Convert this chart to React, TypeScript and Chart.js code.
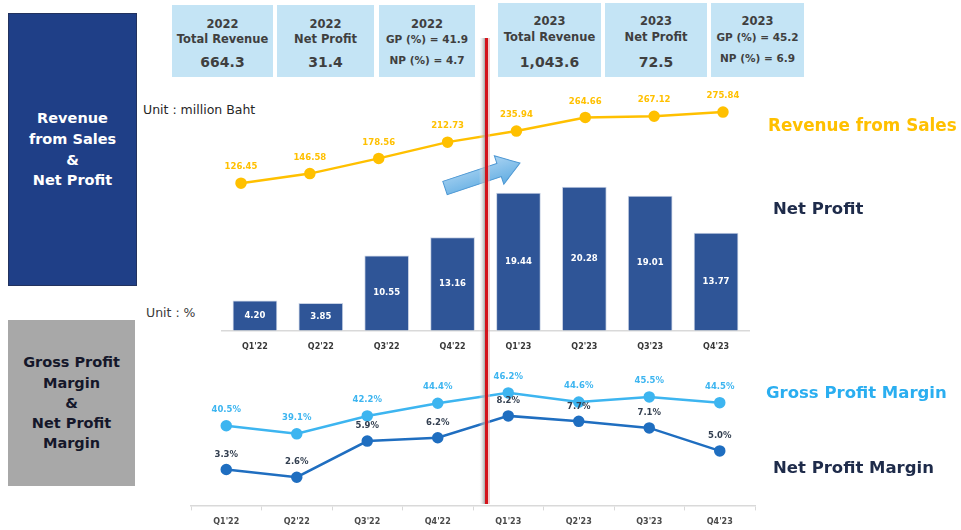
import React, { useEffect, useRef } from "react";
import { Chart, registerables } from "chart.js";

Chart.register(...registerables);

const quarters = ["Q1'22", "Q2'22", "Q3'22", "Q4'22", "Q1'23", "Q2'23", "Q3'23", "Q4'23"];
const revenue = [126.45, 146.58, 178.56, 212.73, 235.94, 264.66, 267.12, 275.84];
const netProfit = [4.2, 3.85, 10.55, 13.16, 19.44, 20.28, 19.01, 13.77];
const grossMargin = [40.5, 39.1, 42.2, 44.4, 46.2, 44.6, 45.5, 44.5];
const netMargin = [3.3, 2.6, 5.9, 6.2, 8.2, 7.7, 7.1, 5.0];

const summary2022 = [
  { lines: ["2022", "Total Revenue", "664.3"] },
  { lines: ["2022", "Net Profit", "31.4"] },
  { lines: ["2022", "GP (%) = 41.9", "NP (%) = 4.7"] },
];
const summary2023 = [
  { lines: ["2023", "Total Revenue", "1,043.6"] },
  { lines: ["2023", "Net Profit", "72.5"] },
  { lines: ["2023", "GP (%) = 45.2", "NP (%) = 6.9"] },
];

const FONT = "'DejaVu Sans', sans-serif";

type LabelCfg = { color: string; font: string; offset: number; center?: boolean; fmt: (v: number) => string } | null;

function makeLabelPlugin(cfgs: LabelCfg[]) {
  return {
    id: "valueLabels",
    afterDatasetsDraw(chart: any) {
      const ctx = chart.ctx;
      chart.data.datasets.forEach((ds: any, di: number) => {
        const cfg = cfgs[di];
        if (!cfg) return;
        const meta = chart.getDatasetMeta(di);
        meta.data.forEach((el: any, i: number) => {
          const raw = ds.data[i];
          const v = typeof raw === "number" ? raw : raw.y;
          const y = cfg.center ? (el.y + el.base) / 2 : el.y - cfg.offset;
          ctx.save();
          ctx.font = cfg.font;
          ctx.fillStyle = cfg.color;
          ctx.textAlign = "center";
          ctx.textBaseline = "middle";
          ctx.fillText(cfg.fmt(v), el.x, y);
          ctx.restore();
        });
      });
    },
  };
}

function TopChart() {
  const ref = useRef<HTMLCanvasElement>(null);
  useEffect(() => {
    const chart = new Chart(ref.current!, {
      type: "bar",
      data: {
        labels: quarters,
        datasets: [
          {
            type: "line",
            data: revenue.map((v, i) => ({ x: i, y: v })),
            xAxisID: "xl",
            yAxisID: "yr",
            borderColor: "#FFC000",
            backgroundColor: "#FFC000",
            borderWidth: 2.5,
            pointRadius: 4.5,
            pointBackgroundColor: "#FFC000",
            pointBorderColor: "#FFC000",
            order: 0,
          } as any,
          {
            type: "bar",
            data: netProfit,
            xAxisID: "x",
            yAxisID: "y",
            backgroundColor: "#2F5597",
            borderColor: "#C8D2E4",
            borderWidth: 1,
            barThickness: 44,
            grouped: false,
            order: 1,
          },
        ],
      },
      options: {
        responsive: false,
        animation: false,
        layout: { padding: { left: 22, right: 31, top: 10, bottom: 6 } },
        plugins: { legend: { display: false }, tooltip: { enabled: false } },
        scales: {
          x: {
            type: "category",
            offset: true,
            grid: { display: false, drawTicks: false },
            border: { display: true, color: "#D9D9D9", width: 1.5 },
            ticks: { color: "#383838", font: { family: FONT, size: 8, weight: "bold" }, padding: 12 },
          },
          xl: { type: "linear", display: false, offset: false, min: -0.276, max: 7.378 },
          y: { display: false, min: 0, max: 34.04 },
          yr: { display: false, min: -183, max: 322.3 },
        },
      },
      plugins: [
        makeLabelPlugin([
          { color: "#FFC000", font: `bold 8.5px ${FONT}`, offset: 16, fmt: (v) => v.toFixed(2) },
          { color: "#FFFFFF", font: `bold 8.5px ${FONT}`, offset: 0, center: true, fmt: (v) => v.toFixed(2) },
        ]),
      ],
    } as any);
    return () => chart.destroy();
  }, []);
  return (
    <canvas
      ref={ref}
      width={580}
      height={290}
      style={{ position: "absolute", left: 200, top: 80, width: 580, height: 290 }}
    />
  );
}

function BottomChart() {
  const ref = useRef<HTMLCanvasElement>(null);
  useEffect(() => {
    const chart = new Chart(ref.current!, {
      type: "line",
      data: {
        labels: quarters,
        datasets: [
          {
            data: grossMargin,
            yAxisID: "y",
            borderColor: "#3DB5F0",
            backgroundColor: "#3DB5F0",
            borderWidth: 2.5,
            pointRadius: 4.5,
            pointBackgroundColor: "#3DB5F0",
            pointBorderColor: "#3DB5F0",
          },
          {
            data: netMargin,
            yAxisID: "y2",
            borderColor: "#1F6EC0",
            backgroundColor: "#1F6EC0",
            borderWidth: 2.5,
            pointRadius: 4.5,
            pointBackgroundColor: "#1F6EC0",
            pointBorderColor: "#1F6EC0",
          },
        ],
      },
      options: {
        responsive: false,
        animation: false,
        layout: { padding: { left: 21, right: 35, top: 15, bottom: 0 } },
        plugins: { legend: { display: false }, tooltip: { enabled: false } },
        scales: {
          x: {
            type: "category",
            offset: true,
            grid: { display: true, drawOnChartArea: false, drawTicks: true, tickLength: 5, offset: true, color: "#D9D9D9" },
            border: { display: true, color: "#D9D9D9", width: 1.5 },
            ticks: { color: "#4A4A4A", font: { family: FONT, size: 8, weight: "bold" }, padding: 6.5 },
          },
          y: { display: false, min: 26.68, max: 50.17 },
          y2: { display: false, min: 0.027, max: 12.39 },
        },
      },
      plugins: [
        makeLabelPlugin([
          { color: "#3DB5F0", font: `bold 8.5px ${FONT}`, offset: 16, fmt: (v) => v.toFixed(1) + "%" },
          { color: "#333F50", font: `bold 8.5px ${FONT}`, offset: 15, fmt: (v) => v.toFixed(1) + "%" },
        ]),
      ],
    } as any);
    return () => chart.destroy();
  }, []);
  return (
    <canvas
      ref={ref}
      width={620}
      height={178}
      style={{ position: "absolute", left: 170, top: 355, width: 620, height: 178 }}
    />
  );
}

function SummaryBox({ left, top, width, height, lines, ys }: any) {
  return (
    <div
      style={{
        position: "absolute",
        left,
        top,
        width,
        height,
        background: "#C4E4F5",
        color: "#3F3F3F",
        fontFamily: FONT,
        fontWeight: "bold",
      }}
    >
      {lines.map((t: string, i: number) => {
        const big = /^[\d,.]+$/.test(t) && i === 2;
        const size = big ? 14 : t.startsWith("GP") || t.startsWith("NP") ? 10.5 : 11.5;
        return (
          <div
            key={i}
            style={{
              position: "absolute",
              left: 0,
              width: "100%",
              top: ys[i] - 8,
              height: 16,
              lineHeight: "16px",
              textAlign: "center",
              fontSize: size,
              whiteSpace: "nowrap",
            }}
          >
            {t}
          </div>
        );
      })}
    </div>
  );
}

export default function App() {
  const boxes2022 = [
    { left: 172, width: 101 },
    { left: 277, width: 97 },
    { left: 379, width: 96 },
  ];
  const boxes2023 = [
    { left: 498, width: 103 },
    { left: 605, width: 102 },
    { left: 711, width: 93 },
  ];
  return (
    <div
      style={{
        position: "absolute",
        left: 0,
        top: 0,
        width: 961,
        height: 530,
        background: "#FFFFFF",
        overflow: "hidden",
        fontFamily: FONT,
      }}
    >
      {summary2022.map((b, i) => (
        <SummaryBox
          key={"a" + i}
          left={boxes2022[i].left}
          top={5}
          width={boxes2022[i].width}
          height={72}
          lines={b.lines}
          ys={i === 2 ? [19, 34, 55] : [19, 34, 57]}
        />
      ))}
      {summary2023.map((b, i) => (
        <SummaryBox
          key={"b" + i}
          left={boxes2023[i].left}
          top={3}
          width={boxes2023[i].width}
          height={74}
          lines={b.lines}
          ys={i === 2 ? [18, 34, 55] : [18, 34, 59]}
        />
      ))}

      <div
        style={{
          position: "absolute",
          left: 8,
          top: 13,
          width: 127,
          height: 271,
          background: "#1F3F87",
          border: "1px solid #22325E",
          color: "#FFFFFF",
          display: "flex",
          alignItems: "center",
          justifyContent: "center",
          textAlign: "center",
          fontWeight: "bold",
          fontSize: 14.5,
          lineHeight: "20.7px",
        }}
      >
        <div>
          Revenue
          <br />
          from Sales
          <br />&amp;
          <br />
          Net Profit
        </div>
      </div>

      <div
        style={{
          position: "absolute",
          left: 8,
          top: 320,
          width: 127,
          height: 166,
          background: "#A8A8A8",
          color: "#15172A",
          display: "flex",
          alignItems: "center",
          justifyContent: "center",
          textAlign: "center",
          fontWeight: "bold",
          fontSize: 14.5,
          lineHeight: "20.3px",
        }}
      >
        <div>
          Gross Profit
          <br />
          Margin
          <br />&amp;
          <br />
          Net Profit
          <br />
          Margin
        </div>
      </div>

      <div style={{ position: "absolute", left: 143, top: 102, fontSize: 12.5, color: "#262626", whiteSpace: "nowrap" }}>
        Unit : million Baht
      </div>
      <div style={{ position: "absolute", left: 146, top: 305, fontSize: 12.5, color: "#3A3A3A", whiteSpace: "nowrap" }}>
        Unit : %
      </div>

      <TopChart />
      <BottomChart />

      <div style={{ position: "absolute", left: 768, top: 115, fontSize: 16.8, fontWeight: "bold", color: "#FFC000", whiteSpace: "nowrap" }}>
        Revenue from Sales
      </div>
      <div style={{ position: "absolute", left: 773, top: 199, fontSize: 16.5, fontWeight: "bold", color: "#1E2B4A", whiteSpace: "nowrap" }}>
        Net Profit
      </div>
      <div style={{ position: "absolute", left: 766, top: 383, fontSize: 16.5, fontWeight: "bold", color: "#2AAEF0", whiteSpace: "nowrap" }}>
        Gross Profit Margin
      </div>
      <div style={{ position: "absolute", left: 773, top: 458, fontSize: 16.5, fontWeight: "bold", color: "#1E2B4A", whiteSpace: "nowrap" }}>
        Net Profit Margin
      </div>

      <svg
        width={961}
        height={530}
        style={{ position: "absolute", left: 0, top: 0, pointerEvents: "none" }}
      >
        <defs>
          <linearGradient id="arrowGrad" x1="0" y1="0" x2="0" y2="1">
            <stop offset="0" stopColor="#A9D3F2" />
            <stop offset="1" stopColor="#62ADE2" />
          </linearGradient>
          <linearGradient id="shadowGrad" x1="0" y1="0" x2="1" y2="0">
            <stop offset="0" stopColor="#FFFFFF" stopOpacity="0" />
            <stop offset="1" stopColor="#9A9A9A" stopOpacity="0.9" />
          </linearGradient>
        </defs>
        <g transform="translate(445,188) rotate(-18.4)">
          <polygon
            points="0,-7 57,-7 57,-15 79,0 57,15 57,7 0,7"
            fill="url(#arrowGrad)"
            stroke="#4C97D3"
            strokeWidth={1}
          />
        </g>
        <rect x={479} y={38} width={6} height={466} fill="url(#shadowGrad)" />
        <rect x={485} y={38} width={3} height={466} fill="#D3141C" />
        <rect x={488} y={38} width={2} height={466} fill="#E8B0B0" opacity={0.6} />
      </svg>
    </div>
  );
}
